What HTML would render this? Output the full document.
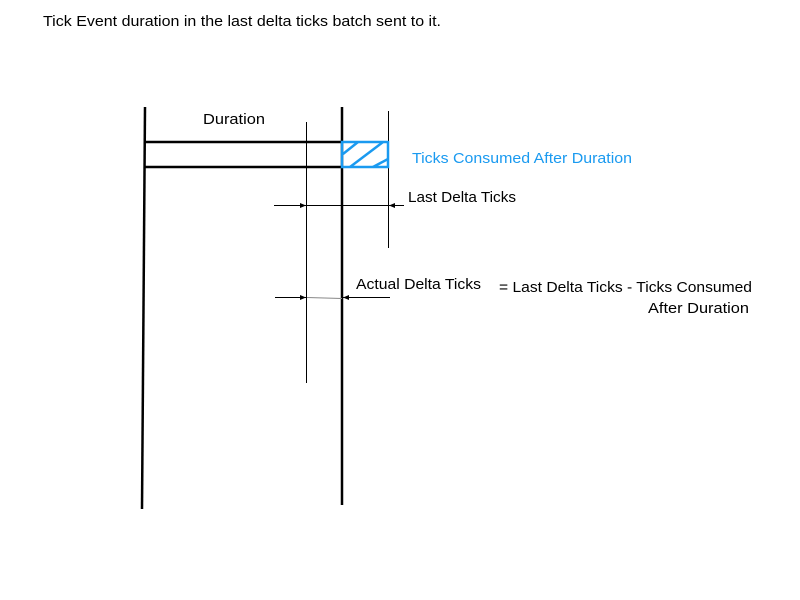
<!DOCTYPE html>
<html><head><style>
html,body{margin:0;padding:0;background:#fff;width:800px;height:600px;overflow:hidden}
svg{display:block}
text{font-family:"Liberation Sans",sans-serif;font-size:15px}
</style></head><body>
<svg width="800" height="600" viewBox="0 0 800 600">
<text x="43" y="26" fill="#000" textLength="398" lengthAdjust="spacingAndGlyphs">Tick Event duration in the last delta ticks batch sent to it.</text>
<g stroke="#000" fill="none">
<line x1="145" y1="107" x2="142" y2="509" stroke-width="2.5"/>
<line x1="342" y1="107" x2="342" y2="505" stroke-width="2.5"/>
<line x1="145" y1="142" x2="342" y2="142" stroke-width="2.5"/>
<line x1="145" y1="167" x2="342" y2="167" stroke-width="2.5"/>
<line x1="306.5" y1="122" x2="306.5" y2="383" stroke-width="1"/>
<line x1="388.5" y1="111" x2="388.5" y2="248" stroke-width="1"/>
<line x1="274" y1="205.5" x2="404" y2="205.5" stroke-width="1"/>
<line x1="275" y1="297.5" x2="307" y2="297.5" stroke-width="1"/>
<line x1="307" y1="297.5" x2="342" y2="298.5" stroke="#888" stroke-width="1"/>
<line x1="342" y1="297.5" x2="390" y2="297.5" stroke-width="1"/>
</g>
<g fill="#000">
<polygon points="306,205.5 300,203 300,208"/>
<polygon points="389,205.5 395,203 395,208"/>
<polygon points="306,297.5 300,295 300,300"/>
<polygon points="343,297.5 349,295 349,300"/>
</g>
<g stroke="#1a9af0" stroke-width="2.5" fill="none">
<rect x="342" y="142" width="46" height="25"/>
<line x1="343" y1="154" x2="358" y2="142"/>
<line x1="350" y1="167" x2="383" y2="142"/>
<line x1="373" y1="167" x2="388" y2="159"/>
</g>
<text x="203" y="124" textLength="62" lengthAdjust="spacingAndGlyphs">Duration</text>
<text x="412" y="163" fill="#1a9af0" textLength="220" lengthAdjust="spacingAndGlyphs">Ticks Consumed After Duration</text>
<text x="408" y="202" textLength="108" lengthAdjust="spacingAndGlyphs">Last Delta Ticks</text>
<text x="356" y="289" textLength="125" lengthAdjust="spacingAndGlyphs">Actual Delta Ticks</text>
<text x="499" y="292" textLength="253" lengthAdjust="spacingAndGlyphs">= Last Delta Ticks - Ticks Consumed</text>
<text x="648" y="313" textLength="101" lengthAdjust="spacingAndGlyphs">After Duration</text>
</svg>
</body></html>
